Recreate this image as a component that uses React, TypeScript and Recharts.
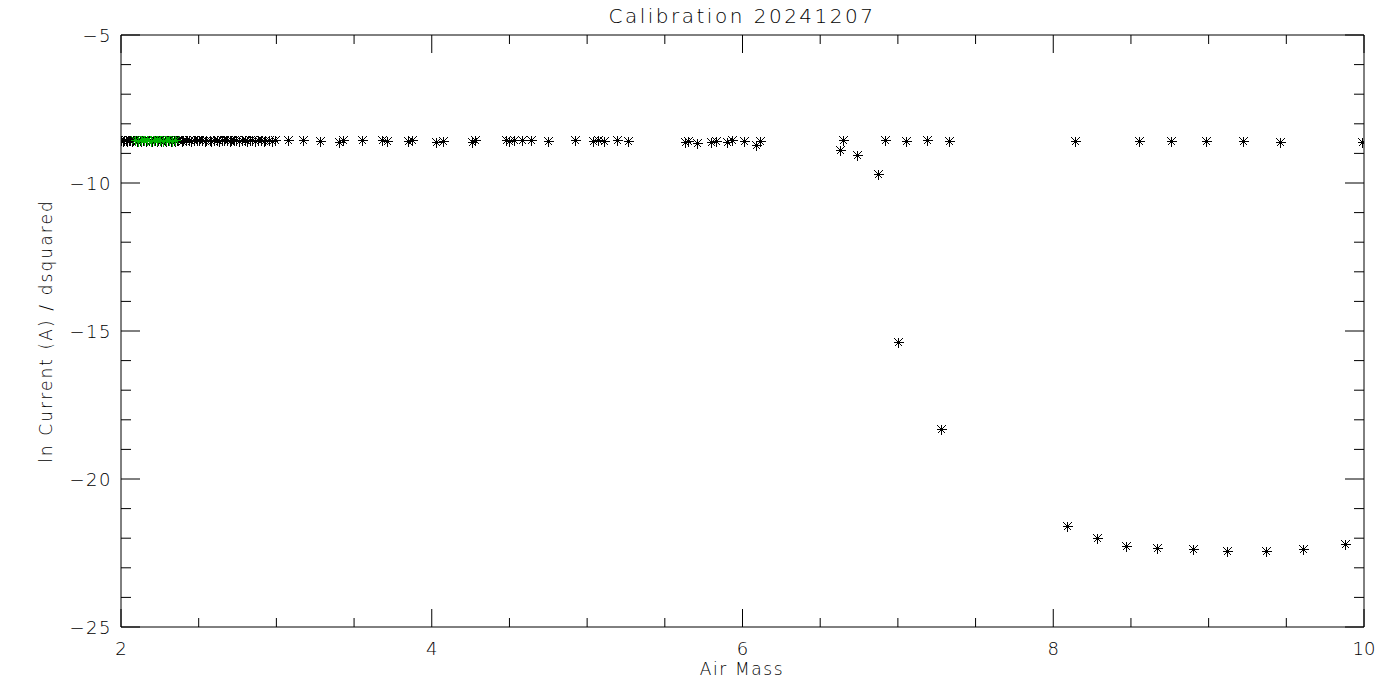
import React from "react";
import { ScatterChart, Scatter, XAxis, YAxis } from "recharts";

// dense run of readings at low air mass (black)
const clusterX = [
  2.0, 2.01, 2.02, 2.03, 2.04, 2.05, 2.06, 2.07, 2.08, 2.09, 2.1, 2.11, 2.12, 2.13, 2.14,
  2.15, 2.16, 2.17, 2.18, 2.19, 2.2, 2.21, 2.22, 2.23, 2.24, 2.25, 2.26, 2.27, 2.28, 2.29,
  2.3, 2.31, 2.32, 2.33, 2.34, 2.35, 2.36, 2.37, 2.39, 2.4, 2.42, 2.44, 2.45, 2.47, 2.49,
  2.5, 2.52, 2.54, 2.55, 2.57, 2.58, 2.6, 2.62, 2.63, 2.65, 2.66, 2.68, 2.7, 2.71, 2.73,
  2.74, 2.76, 2.78, 2.8, 2.81, 2.83, 2.84, 2.86, 2.88, 2.9, 2.92, 2.93, 2.95, 2.97, 2.99
];
const clusterY = [
  -8.56, -8.57, -8.55, -8.56, -8.57, -8.56, -8.55, -8.57, -8.56, -8.55, -8.57, -8.56, -8.56, -8.57, -8.55,
  -8.56, -8.57, -8.56, -8.55, -8.56, -8.57, -8.56, -8.55, -8.57, -8.56, -8.56, -8.57, -8.55, -8.56, -8.57,
  -8.56, -8.55, -8.57, -8.56, -8.56, -8.57, -8.55, -8.56, -8.57, -8.56, -8.55, -8.56, -8.57, -8.56, -8.56,
  -8.56, -8.55, -8.57, -8.56, -8.56, -8.57, -8.55, -8.56, -8.57, -8.56, -8.55, -8.56, -8.57, -8.56, -8.56,
  -8.56, -8.57, -8.55, -8.56, -8.57, -8.56, -8.55, -8.57, -8.56, -8.56, -8.57, -8.55, -8.56, -8.57, -8.56
];
// remaining black readings
const blackX = [
  3.075, 3.17, 3.28, 3.4, 3.43, 3.55, 3.68, 3.71, 3.85, 3.87, 4.03, 4.07, 4.26, 4.28, 4.48,
  4.5, 4.53, 4.58, 4.64, 4.75, 4.92, 5.04, 5.07, 5.11, 5.19, 5.26, 5.63, 5.65, 5.71, 5.8,
  5.83, 5.9, 5.93, 6.01, 6.09, 6.11, 6.63, 6.65, 6.74, 6.87, 6.92, 7.0, 7.05, 7.19, 7.28,
  7.33, 8.09, 8.14, 8.28, 8.47, 8.55, 8.67, 8.76, 8.9, 8.98, 9.12, 9.22, 9.37, 9.46, 9.61,
  9.88, 9.99
];
const blackY = [
  -8.56, -8.55, -8.58, -8.6, -8.55, -8.55, -8.56, -8.58, -8.57, -8.55, -8.62, -8.58, -8.6, -8.55, -8.56,
  -8.58, -8.55, -8.55, -8.54, -8.57, -8.56, -8.58, -8.56, -8.57, -8.56, -8.57, -8.6, -8.58, -8.64, -8.63,
  -8.58, -8.6, -8.56, -8.57, -8.72, -8.57, -8.88, -8.56, -9.05, -9.71, -8.56, -15.38, -8.57, -8.56, -18.32,
  -8.57, -21.59, -8.57, -22.0, -22.25, -8.57, -22.32, -8.57, -22.38, -8.57, -22.43, -8.57, -22.43, -8.6, -22.37,
  -22.2, -8.6
];
const greenX = [2.09, 2.11, 2.13, 2.15, 2.17, 2.19, 2.21, 2.23, 2.25, 2.27, 2.29, 2.31, 2.33, 2.35];
const greenY = [-8.56, -8.57, -8.56, -8.55, -8.56, -8.57, -8.56, -8.56, -8.55, -8.57, -8.56, -8.56, -8.57, -8.56];

const xTicks = [2, 2.5, 3, 3.5, 4, 4.5, 5, 5.5, 6, 6.5, 7, 7.5, 8, 8.5, 9, 9.5, 10];
const xLabels = [2, 4, 6, 8, 10];
const yTicks = [-25, -24, -23, -22, -21, -20, -19, -18, -17, -16, -15, -14, -13, -12, -11, -10, -9, -8, -7, -6, -5];
const yLabels = [-25, -20, -15, -10, -5];

const blackData = [
  ...clusterX.map((x, i) => ({ x, y: clusterY[i] })),
  ...blackX.map((x, i) => ({ x, y: blackY[i] }))
];
const greenData = greenX.map((x, i) => ({ x, y: greenY[i] }));

const font = "'DejaVu Sans', sans-serif";
const ink = "#000";

const fmt = (v: number) => (v < 0 ? "\u2212" + Math.abs(v) : String(v));

function Asterisk(props: any) {
  const { cx, cy, color } = props;
  if (cx == null || cy == null) return null;
  const px = Math.round(cx) + 0.5;
  const py = Math.round(cy) + 0.5;
  const r = 5;
  const d = 4;
  return (
    <g stroke={color} strokeWidth={1} shapeRendering="crispEdges">
      <line x1={px - r} x2={px + r} y1={py} y2={py} />
      <line x1={px} x2={px} y1={py - r} y2={py + r} />
      <line x1={px - d} x2={px + d} y1={py - d} y2={py + d} />
      <line x1={px - d} x2={px + d} y1={py + d} y2={py - d} />
      <rect x={px - 1.5} y={py - 1.5} width={3} height={3} fill={color} stroke="none" />
    </g>
  );
}

function BottomTick(props: any) {
  const { x, y, payload } = props;
  const major = xLabels.includes(payload.value);
  return (
    <g>
      <line x1={x} x2={x} y1={y} y2={y - (major ? 18 : 9)} stroke={ink} />
      {major && (
        <text x={x} y={y + 28} textAnchor="middle" fontFamily={font} fontWeight={200} fontSize={18} fill={ink}>
          {fmt(payload.value)}
        </text>
      )}
    </g>
  );
}

function TopTick(props: any) {
  const { x, y, payload } = props;
  const major = xLabels.includes(payload.value);
  return <line x1={x} x2={x} y1={y} y2={y + (major ? 18 : 9)} stroke={ink} />;
}

function LeftTick(props: any) {
  const { x, y, payload } = props;
  const major = yLabels.includes(payload.value);
  return (
    <g>
      <line x1={x} x2={x + (major ? 19 : 10)} y1={y} y2={y} stroke={ink} />
      {major && (
        <text
          x={x - 9} y={y + 7} textAnchor="end" fontFamily={font} fontWeight={200} fontSize={18}
          letterSpacing={1.5} fill={ink}
        >
          {fmt(payload.value)}
        </text>
      )}
    </g>
  );
}

function RightTick(props: any) {
  const { x, y, payload } = props;
  const major = yLabels.includes(payload.value);
  return <line x1={x} x2={x - (major ? 19 : 10)} y1={y} y2={y} stroke={ink} />;
}

export default function App() {
  return (
    <div style={{ position: "absolute", left: 0, top: 0, width: 1400, height: 700, background: "#fff" }}>
      <div
        style={{
          position: "absolute", left: 0, width: 1484, top: 4, textAlign: "center",
          fontFamily: font, fontWeight: 200, fontSize: 20, letterSpacing: 2.5, color: ink
        }}
      >
        Calibration 20241207
      </div>
      <ScatterChart width={1400} height={700} margin={{ top: 34, right: 35, bottom: 72, left: 120 }}>
        <XAxis
          xAxisId="b" dataKey="x" type="number" domain={[2, 10]} ticks={xTicks} interval={0}
          height={1} tickSize={0} tickMargin={0} tickLine={false} tick={<BottomTick />}
          axisLine={{ stroke: ink }} allowDataOverflow
        />
        <XAxis
          xAxisId="t" orientation="top" dataKey="x" type="number" domain={[2, 10]} ticks={xTicks} interval={0}
          height={1} tickSize={0} tickMargin={0} tickLine={false} tick={<TopTick />}
          axisLine={{ stroke: ink }} allowDataOverflow
        />
        <YAxis
          yAxisId="l" dataKey="y" type="number" domain={[-25, -5]} ticks={yTicks} interval={0}
          width={1} tickSize={0} tickMargin={0} tickLine={false} tick={<LeftTick />}
          axisLine={{ stroke: ink }} allowDataOverflow
        />
        <YAxis
          yAxisId="r" orientation="right" dataKey="y" type="number" domain={[-25, -5]} ticks={yTicks} interval={0}
          width={1} tickSize={0} tickMargin={0} tickLine={false} tick={<RightTick />}
          axisLine={{ stroke: ink }} allowDataOverflow
        />
        <Scatter
          xAxisId="b" yAxisId="l" data={blackData} isAnimationActive={false}
          shape={(p: any) => <Asterisk cx={p.cx} cy={p.cy} color="#000" />}
        />
        <Scatter
          xAxisId="b" yAxisId="l" data={greenData} isAnimationActive={false}
          shape={(p: any) => <Asterisk cx={p.cx} cy={p.cy} color="#00b400" />}
        />
      </ScatterChart>
      <div
        style={{
          position: "absolute", left: 0, width: 1484, top: 659, textAlign: "center",
          fontFamily: font, fontWeight: 200, fontSize: 17, letterSpacing: 1.6, color: ink
        }}
      >
        Air Mass
      </div>
      <div
        style={{
          position: "absolute", left: 47, top: 331, width: 0, height: 0,
          transform: "rotate(-90deg)"
        }}
      >
        <div
          style={{
            position: "absolute", left: -200, width: 400, top: -11, textAlign: "center",
            fontFamily: font, fontWeight: 200, fontSize: 17, letterSpacing: 2.1, color: ink, whiteSpace: "nowrap"
          }}
        >
          ln Current (A) / dsquared
        </div>
      </div>
    </div>
  );
}
